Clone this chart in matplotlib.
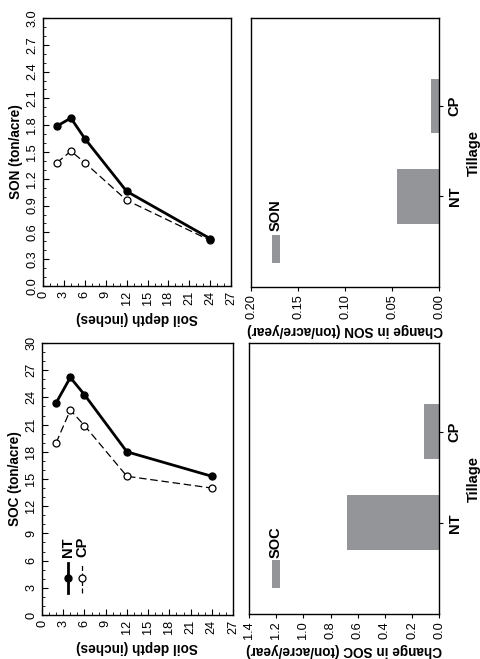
import matplotlib
matplotlib.use("Agg")
import matplotlib.pyplot as plt
from matplotlib.ticker import MultipleLocator, FormatStrFormatter
from matplotlib.patches import Rectangle

plt.rcParams['font.family'] = ['Liberation Sans', 'DejaVu Sans']

# ---- data ----
depth = [2, 4, 6, 12, 24]
soc_nt = [23.4, 26.2, 24.3, 18.0, 15.3]
soc_cp = [19.0, 22.6, 20.9, 15.3, 14.0]
son_nt = [1.79, 1.88, 1.65, 1.06, 0.53]
son_cp = [1.38, 1.51, 1.38, 0.96, 0.51]
tillage = ["NT", "CP"]
soc_change = [0.676, 0.113]
son_change = [0.045, 0.009]

GRAY = "#939598"
TICK_FS = 9.2
LAB_FS = 9.8

fig = plt.figure(figsize=(4.8, 6.59), dpi=100)

def line_panel(rect, nt, cp, ymax, ymaj, ymin, fmt, ylabel, legend=False):
    ax = fig.add_axes(rect)
    ax.plot(depth, cp, color="black", lw=0.9, ls=(0, (6, 3)), marker="o",
            mfc="white", mec="black", ms=5, mew=0.9, zorder=3)
    ax.plot(depth, nt, color="black", lw=2.0, marker="o", mfc="black",
            mec="black", ms=5, zorder=4)
    ax.set_xlim(0, 27)
    ax.set_ylim(0, ymax)
    ax.xaxis.set_major_locator(MultipleLocator(3))
    ax.xaxis.set_minor_locator(MultipleLocator(1))
    ax.yaxis.set_major_locator(MultipleLocator(ymaj))
    ax.yaxis.set_minor_locator(MultipleLocator(ymin))
    ax.yaxis.set_major_formatter(FormatStrFormatter(fmt))
    ax.tick_params(which="both", direction="in", top=False, right=False)
    ax.tick_params(which="major", length=4, width=0.8, labelsize=TICK_FS)
    ax.tick_params(axis="x", which="major", pad=3.5)
    ax.tick_params(axis="y", which="major", pad=3.5)
    ax.tick_params(which="minor", length=2.5, width=0.6)
    for lab in ax.get_xticklabels():
        lab.set_rotation(90)
    for lab in ax.get_yticklabels():
        lab.set_rotation(90)
        lab.set_va("center")
    ax.set_xlabel("Soil depth (inches)", rotation=180, fontsize=LAB_FS,
                  fontweight="bold", labelpad=4)
    ax.set_ylabel(ylabel, rotation=90, fontsize=LAB_FS, fontweight="bold",
                  labelpad=2)
    for s in ax.spines.values():
        s.set_linewidth(1.0)
    if legend:
        t = ax.transAxes
        ax.plot([0.136, 0.136], [0.081, 0.191], transform=t, color="black",
                lw=2.0, clip_on=False)
        ax.plot([0.136], [0.136], transform=t, marker="o", color="black",
                ms=5)
        ax.text(0.136, 0.25, "NT", transform=t, rotation=90, ha="center",
                va="center", fontsize=10.5, fontweight="bold")
        ax.plot([0.209, 0.209], [0.081, 0.191], transform=t, color="black",
                lw=0.9, ls=(0, (4, 2)))
        ax.plot([0.209], [0.136], transform=t, marker="o", mfc="white",
                mec="black", ms=5, mew=0.9)
        ax.text(0.209, 0.25, "CP", transform=t, rotation=90, ha="center",
                va="center", fontsize=10.5, fontweight="bold")
    return ax

def bar_panel(rect, vals, xmax, xstep, fmt, xlabel, legtext, leg):
    ax = fig.add_axes(rect)
    pos = list(range(len(tillage)))
    ax.barh(pos, vals, height=0.6, color=GRAY, edgecolor="none")
    ax.set_xlim(xmax, 0)
    ax.set_ylim(-1.0, 1.97)
    ax.set_yticks(pos)
    ax.set_yticklabels(tillage)
    ax.yaxis.tick_right()
    ax.yaxis.set_label_position("right")
    ax.xaxis.set_major_locator(MultipleLocator(xstep))
    ax.xaxis.set_major_formatter(FormatStrFormatter(fmt))
    ax.tick_params(axis="x", direction="out", length=3, width=0.8,
                   labelsize=TICK_FS, pad=2)
    ax.tick_params(axis="y", direction="out", length=3, width=0.8,
                   labelsize=10.5, pad=3)
    for lab in ax.get_xticklabels():
        lab.set_rotation(90)
    for lab in ax.get_yticklabels():
        lab.set_rotation(90)
        lab.set_fontweight("bold")
        lab.set_va("center")
    ax.set_xlabel(xlabel, rotation=180, fontsize=LAB_FS, fontweight="bold",
                  labelpad=3)
    ax.set_ylabel("Tillage", rotation=90, fontsize=10.5, fontweight="bold",
                  labelpad=4)
    for s in ax.spines.values():
        s.set_linewidth(1.0)
    x0, x1, y0, y1, ty = leg
    ax.add_patch(Rectangle((x0, y0), x1 - x0, y1 - y0, transform=ax.transAxes,
                           color=GRAY, lw=0))
    ax.text((x0 + x1) / 2, ty, legtext, transform=ax.transAxes, rotation=90,
            ha="center", va="center", fontsize=10.5, fontweight="bold")
    return ax

line_panel([0.0875, 0.0668, 0.398, 0.4127], soc_nt, soc_cp, 30, 3, 1, "%d",
           "SOC (ton/acre)", legend=True)
line_panel([0.0896, 0.566, 0.392, 0.4067], son_nt, son_cp, 3.0, 0.3, 0.1,
           "%.1f", "SON (ton/acre)")
bar_panel([0.523, 0.5645, 0.392, 0.408], son_change, 0.20, 0.05, "%.2f",
          "Change in SON (ton/acre/year)", "SON",
          (0.110, 0.154, 0.090, 0.193, 0.268))
bar_panel([0.519, 0.0683, 0.396, 0.411], soc_change, 1.4, 0.2, "%.1f",
          "Change in SOC (ton/acre/year)", "SOC",
          (0.119, 0.163, 0.097, 0.199, 0.267))

fig.savefig("out.png", dpi=100)
